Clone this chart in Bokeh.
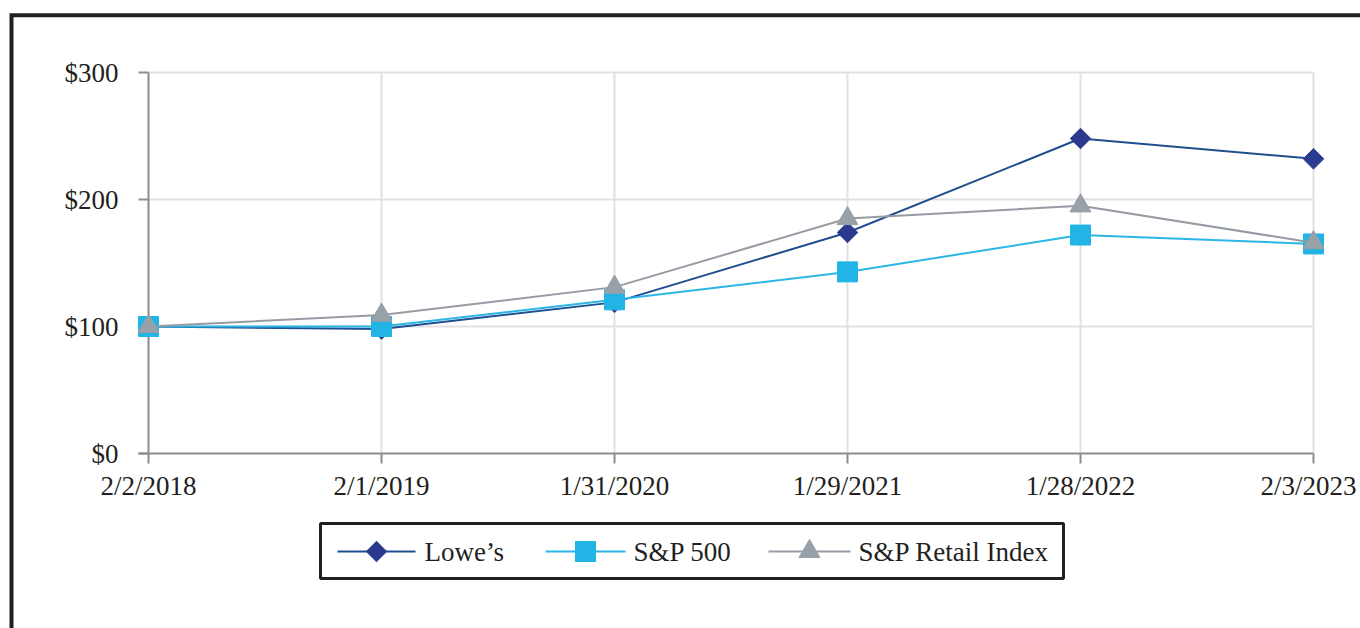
import math
from bokeh.plotting import figure
from bokeh.models import Range1d
from bokeh.core.properties import value
from bokeh.embed import file_html
from bokeh.resources import INLINE

# ---------------- data ----------------
dates = ["2/2/2018", "2/1/2019", "1/31/2020", "1/29/2021", "1/28/2022", "2/3/2023"]
lowes = [100, 98, 119, 174, 248, 232]
sp500 = [100, 100, 121, 143, 172, 165]
retail = [100, 109, 131, 185, 195, 166]
y_ticks = [0, 100, 200, 300]
y_labels = ["$0", "$100", "$200", "$300"]
series_names = ["Lowe\u2019s", "S&P 500", "S&P Retail Index"]

# ---------------- layout (page pixel geometry) ----------------
W, H = 1360, 628
OFF = 0
X0, DX = 148.0, 233.0       # page x of first category, spacing
Y0, KY = 453.0, 1.27        # page y of value 0, pixels per unit


def fx(px):
    return (px - X0) / DX


def fy(py):
    return (Y0 - py) / KY


FONT = value("Liberation Serif")
TXT = "#231f20"
FS = "27px"

p = figure(width=W, height=H, output_backend="svg", toolbar_location=None,
           x_axis_location=None, y_axis_location=None, min_border=0,
           x_range=Range1d(fx(OFF), fx(OFF + W)),
           y_range=Range1d(fy(OFF + H), fy(OFF)))
p.grid.visible = False
p.outline_line_color = None
p.background_fill_color = "white"
p.border_fill_color = "white"

xs = list(range(len(dates)))
ymax = y_ticks[-1]

# outer frame (left and top edges visible)
p.line([fx(11), fx(11), fx(1400)], [fy(700), fy(14.7), fy(14.7)],
       line_color=TXT, line_width=4, line_join="miter")

# grid lines
grid_c = "#e1e1e1"
p.segment(x0=[0] * (len(y_ticks) - 1), y0=y_ticks[1:], x1=[xs[-1]] * (len(y_ticks) - 1),
          y1=y_ticks[1:], line_color=grid_c, line_width=2)
p.segment(x0=xs[1:], y0=[0] * (len(xs) - 1), x1=xs[1:], y1=[ymax] * (len(xs) - 1),
          line_color=grid_c, line_width=2)

# axes
ax_c = "#8c8c8c"
tick = 10.0 / DX
p.segment(x0=[0], y0=[0], x1=[0], y1=[ymax], line_color=ax_c, line_width=2)
p.segment(x0=[-tick] * len(y_ticks), y0=y_ticks, x1=[0] * len(y_ticks), y1=y_ticks,
          line_color=ax_c, line_width=2)
p.segment(x0=[-tick], y0=[0], x1=[xs[-1]], y1=[0], line_color=ax_c, line_width=2)
p.segment(x0=xs, y0=[0] * len(xs), x1=xs, y1=[fy(Y0 + 10)] * len(xs),
          line_color=ax_c, line_width=2)

# tick labels
p.text(x=[fx(118)] * len(y_ticks), y=y_ticks, text=y_labels, text_align="right",
       text_baseline="middle", text_font=FONT, text_font_size=FS, text_color=TXT)
x_shift = [0, 0, 0, 0, 0, -5]
p.text(x=xs, y=[fy(485)] * len(xs), text=dates, x_offset=x_shift, text_align="center",
       text_baseline="middle", text_font=FONT, text_font_size=FS, text_color=TXT)

# series
line_cols = ["#1f4f8f", "#2bb6e6", "#959ca3"]
mark_cols = ["#2a3a8f", "#22b4e4", "#98a0a8"]
markers = ["square", "square", "triangle"]
angles = [math.pi / 4, 0, 0]
sizes = [14.5, 20, 21]
for vals, lc, mc, mk, ang, sz in zip([lowes, sp500, retail], line_cols, mark_cols,
                                     markers, angles, sizes):
    p.line(xs, vals, line_color=lc, line_width=2)
    p.scatter(xs, vals, marker=mk, size=sz, angle=ang, fill_color=mc, line_color=mc)

# legend
p.quad(left=[fx(320)], right=[fx(1063)], top=[fy(523)], bottom=[fy(578)],
       fill_color="white", line_color=TXT, line_width=3)
leg_y = fy(551)
leg_line = [(337, 415), (545, 625), (768, 850)]
leg_text_x = [424, 633, 858]
for (a, b), tx, name, lc, mc, mk, ang, sz in zip(leg_line, leg_text_x, series_names,
                                                  line_cols, mark_cols, markers, angles, sizes):
    p.line([fx(a), fx(b)], [leg_y, leg_y], line_color=lc, line_width=2)
    p.scatter([fx((a + b) / 2)], [leg_y], marker=mk, size=sz, angle=ang,
              fill_color=mc, line_color=mc)
    p.text(x=[fx(tx)], y=[leg_y], text=[name], text_align="left", text_baseline="middle",
           text_font=FONT, text_font_size=FS, text_color=TXT)

open("out.html", "w").write(file_html(p, INLINE))
